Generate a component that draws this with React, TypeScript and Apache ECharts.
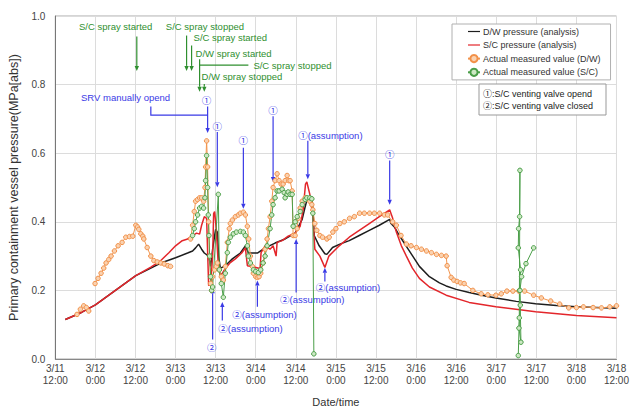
import React, { useEffect, useRef } from "react";
import * as echarts from "echarts";

// x values are hours counted from 3/11 0:00; y values are MPa[abs]
const xTickHours = [12, 24, 36, 48, 60, 72, 84, 96, 108, 120, 132, 144, 156, 168, 180];
const yTicks = [0, 0.2, 0.4, 0.6, 0.8, 1.0];

const dwAnalysis: [number, number][] = [
  [15.0, 0.115], [19.7, 0.135], [24, 0.158], [30, 0.2], [36.1, 0.243], [40.6, 0.265], [43.6, 0.28],
  [48, 0.295], [51.6, 0.309], [53.1, 0.315], [54, 0.324], [54.9, 0.335], [55.8, 0.32], [56.6, 0.309],
  [57.9, 0.3], [58.5, 0.27], [59.1, 0.32], [59.7, 0.36], [60.0, 0.378], [60.5, 0.37], [60.9, 0.3],
  [61.4, 0.264], [62.9, 0.272], [65, 0.292], [67.4, 0.309], [68.9, 0.33], [69.8, 0.309], [72.5, 0.309],
  [74.8, 0.324], [77.8, 0.338], [80.8, 0.35], [83.8, 0.367], [85.9, 0.407], [86.8, 0.444], [87.6, 0.473],
  [88.8, 0.473], [89.1, 0.44], [89.5, 0.36], [91, 0.33], [92.7, 0.307], [93.3, 0.305], [95, 0.325],
  [97.2, 0.335], [100, 0.345], [103, 0.36], [106, 0.375], [109, 0.39], [112.1, 0.407], [112.5, 0.395],
  [113.5, 0.385], [115, 0.36], [117, 0.33], [119, 0.3], [121, 0.27], [124, 0.24], [127, 0.222],
  [129, 0.213], [132, 0.203], [135.9, 0.194], [140, 0.185], [143.9, 0.178], [150, 0.168], [155.8, 0.161],
  [162, 0.156], [168, 0.152], [174, 0.15], [180, 0.148],
];

const scAnalysis: [number, number][] = [
  [15.0, 0.115], [19.7, 0.135], [24, 0.158], [30, 0.2], [36.1, 0.243], [40.6, 0.268], [43.6, 0.287],
  [46, 0.31], [48, 0.33], [50, 0.345], [51.6, 0.35], [53.1, 0.36], [54.3, 0.367], [55.2, 0.364],
  [55.8, 0.39], [56.6, 0.415], [57.3, 0.41], [57.9, 0.215], [58.5, 0.215], [59.1, 0.3], [59.4, 0.424],
  [59.7, 0.43], [60.2, 0.378], [60.8, 0.272], [61.4, 0.244], [62.0, 0.25], [62.9, 0.264], [64.4, 0.281],
  [65.9, 0.292], [67.8, 0.309], [68.9, 0.324], [69.5, 0.272], [73.3, 0.264], [73.6, 0.31], [74.8, 0.33],
  [76.3, 0.32], [77.2, 0.33], [78.1, 0.3], [78.4, 0.34], [79.9, 0.345], [81.7, 0.358], [83.8, 0.367],
  [85.3, 0.387], [86.2, 0.436], [86.9, 0.51], [87.3, 0.516], [88.2, 0.48], [89.1, 0.415], [89.7, 0.32],
  [91.2, 0.3], [92.7, 0.267], [93.9, 0.3], [97, 0.33], [100, 0.355], [103, 0.375], [106, 0.395],
  [109, 0.415], [112.1, 0.435], [113, 0.41], [114.1, 0.37], [115.6, 0.33], [117.1, 0.3], [118.9, 0.265],
  [121, 0.235], [124, 0.21], [129, 0.186], [135.9, 0.165], [143.9, 0.152], [155.8, 0.138], [168, 0.127],
  [180, 0.12],
];

const dwMeasured: [number, number | null][] = [
  [18.5, 0.13], [19.5, 0.145], [20.5, 0.155], [21.3, 0.15], [22, 0.14], [23, null],
  [23.9, 0.22], [24.8, 0.235], [25.7, 0.25], [26.5, 0.265], [27.2, 0.28], [28, 0.29], [28.7, 0.3],
  [29.7, 0.315], [30.8, 0.33], [32, 0.34], [33.1, 0.355], [34.2, 0.357], [35.2, 0.358], [36.1, 0.39],
  [36.6, 0.385], [37, 0.378], [37.6, 0.365], [38.2, 0.358], [38.5, 0.35], [39.5, 0.325], [40.6, 0.3],
  [41.5, 0.287], [42.5, 0.283], [43.6, 0.28], [44.6, 0.277], [45.7, 0.272], [46.5, 0.27], [49, null],
  [52.5, 0.35], [53.1, 0.39], [53.6, 0.43], [54, 0.46], [54.6, 0.465], [55.2, 0.47], [55.8, 0.47],
  [56.4, 0.46], [56.8, 0.5], [57.0, 0.56], [57.3, 0.636], [57.6, 0.56], [57.9, 0.4], [58.2, 0.3],
  [58.5, 0.22], [58.8, 0.2], [59.1, 0.24], [59.7, 0.26], [60.2, 0.27], [60.5, 0.28], [61.1, 0.26],
  [61.7, 0.24], [62.3, 0.23], [62.9, 0.27], [63.5, 0.34], [64.1, 0.38], [64.4, 0.395], [65, 0.405],
  [65.9, 0.415], [66.8, 0.42], [67.4, 0.425], [68.3, 0.428], [68.9, 0.42], [69.5, 0.387], [69.9, 0.35],
  [70.4, 0.3], [71, 0.27], [71.3, 0.25], [72, 0.24], [72.5, 0.238], [73, 0.24], [73.5, 0.25],
  [74.2, 0.28], [74.8, 0.32], [75.4, 0.35], [75.8, 0.38], [76.3, 0.415], [76.8, 0.46], [77.2, 0.5],
  [77.8, 0.52], [78.4, 0.54], [79, 0.52], [79.6, 0.51], [80.2, 0.51], [80.8, 0.52], [81.4, 0.535],
  [81.9, 0.52], [82.3, 0.52], [82.9, 0.49], [83.2, 0.36], [83.8, 0.36], [84.4, 0.38], [84.7, 0.41],
  [85.3, 0.44], [85.9, 0.46], [86.8, 0.47], [87.6, 0.465], [88.2, 0.46], [88.8, 0.45], [89.1, 0.435],
  [89.7, 0.395], [90.3, 0.375], [91.2, 0.36], [92, 0.355], [93.3, 0.35], [94, 0.355], [95.1, 0.37],
  [96, 0.38], [97.2, 0.395], [98.5, 0.4], [100.1, 0.41], [101.5, 0.415], [103.1, 0.425], [104.5, 0.425],
  [106.1, 0.425], [107.5, 0.425], [109.1, 0.425], [110.5, 0.42], [111.5, 0.42], [113, 0.4], [114.1, 0.39],
  [115.5, 0.36], [117.1, 0.335], [118.5, 0.33], [120.1, 0.325], [121.6, 0.32], [123.1, 0.315],
  [124.6, 0.31], [126.1, 0.305], [127.6, 0.302], [129, 0.3], [129.3, 0.272], [130.5, 0.238],
  [131.3, 0.23], [132.3, 0.226], [133.3, 0.222], [134.4, 0.22], [137, 0.2], [139.5, 0.19],
  [141.5, 0.187], [143.9, 0.186], [145.5, 0.19], [147.2, 0.198], [149, 0.198], [150.8, 0.198],
  [152.5, 0.198], [155.2, 0.186], [157.5, 0.178], [160.3, 0.169], [163, 0.16], [165.7, 0.149],
  [168, 0.15], [170.1, 0.152], [173, 0.15], [175.5, 0.149], [178, 0.152], [180, 0.155],
];

const scMeasured: [number, number | null][] = [
  [53.1, 0.36], [53.6, 0.38], [54, 0.4], [54.6, 0.42], [55.2, 0.44], [55.8, 0.445], [56.4, 0.44],
  [56.8, 0.47], [57.0, 0.52], [57.3, 0.593], [57.6, 0.5], [57.8, 0.42], [58.0, 0.36], [58.2, 0.3],
  [58.5, 0.24], [58.8, 0.2], [59.1, 0.21], [60.8, 0.48], [61.1, 0.26], [61.7, 0.22], [62.3, 0.18],
  [62.9, 0.25], [63.5, 0.31], [63.8, 0.34], [64.4, 0.355], [65.3, 0.365], [66.2, 0.37], [67.4, 0.372],
  [68.3, 0.37], [68.9, 0.36], [69.5, 0.33], [69.8, 0.3], [70.4, 0.28], [71.3, 0.26], [72, 0.255],
  [72.8, 0.252], [73.5, 0.26], [74.2, 0.28], [74.8, 0.3], [75.4, 0.33], [76.3, 0.38], [76.8, 0.42],
  [77.2, 0.45], [77.8, 0.47], [78.4, 0.49], [79, 0.49], [79.9, 0.495], [80.5, 0.485], [80.8, 0.47],
  [81.4, 0.48], [81.7, 0.487], [82.3, 0.48], [82.9, 0.48], [83.2, 0.387], [83.8, 0.4], [84.4, 0.415],
  [85.3, 0.43], [85.9, 0.45], [86.8, 0.465], [87.3, 0.47], [88.2, 0.47], [88.8, 0.467], [89.1, 0.425],
  [89.4, 0.015], [100, null],
  [150.6, 0.01], [150.9, 0.12], [151.1, 0.55], [151.0, 0.415], [150.7, 0.38], [150.6, 0.324],
  [151.3, 0.26], [151.0, 0.2], [151.2, 0.157], [150.8, 0.09], [151.4, 0.049], [151.1, 0.2],
  [151.6, 0.24], [152.9, 0.278], [155.2, 0.324],
];

const seriesNames = [
  "D/W pressure (analysis)",
  "S/C pressure (analysis)",
  "Actual measured value (D/W)",
  "Actual measured value (S/C)",
];

// Annotations in data coordinates (hours, MPa)
const greenTexts: [string, number, number][] = [
  ["S/C spray started", 19.1, 0.968],
  ["S/C spray stopped", 45.1, 0.968],
  ["S/C spray started", 53.4, 0.937],
  ["D/W spray started", 54.0, 0.891],
  ["S/C spray stopped", 71.3, 0.857],
  ["D/W spray stopped", 55.8, 0.825],
];
const greenArrows: [number, number][][] = [
  [[36.4, 0.94], [36.4, 0.84]],
  [[51.3, 0.943], [51.3, 0.84]],
  [[52.8, 0.914], [52.8, 0.84]],
  [[55.2, 0.874], [55.2, 0.779]],
  [[56.6, 0.802], [56.6, 0.779]],
];
const greenLines: [number, number][][] = [
  [[69.8, 0.857], [55.2, 0.857]],
];

const blueTexts: [string, number, number, string][] = [
  ["SRV manually opend", 19.7, 0.762, "left"],
  ["①", 57.3, 0.754, "center"],
  ["①", 60.5, 0.679, "center"],
  ["①", 68.3, 0.636, "center"],
  ["①", 77.2, 0.725, "center"],
  ["①(assumption)", 84.7, 0.653, "left"],
  ["①", 112.1, 0.596, "center"],
  ["②", 58.8, 0.034, "center"],
  ["②(assumption)", 60.8, 0.089, "left"],
  ["②(assumption)", 65.0, 0.129, "left"],
  ["②(assumption)", 79.3, 0.174, "left"],
  ["②(assumption)", 90.0, 0.209, "left"],
];
const blueArrows: [number, number][][] = [
  [[57.6, 0.736], [57.6, 0.659]],
  [[60.5, 0.662], [60.5, 0.501]],
  [[68.3, 0.616], [68.3, 0.438]],
  [[77.2, 0.708], [77.2, 0.516]],
  [[87.6, 0.636], [87.6, 0.524]],
  [[112.1, 0.579], [112.1, 0.45]],
  [[59.1, 0.057], [59.1, 0.206]],
  [[62.0, 0.112], [62.0, 0.166]],
  [[72.5, 0.152], [72.5, 0.229]],
  [[84.1, 0.194], [84.1, 0.35]],
  [[92.7, 0.226], [92.7, 0.266]],
];
const blueLines: [number, number][][] = [
  [[40.6, 0.736], [40.6, 0.711], [57.6, 0.711]],
];

const valveNotes = ["①:S/C venting valve opend", "②:S/C venting valve closed"];

const FONT = '"Liberation Sans", Arial, "Noto Sans CJK JP", sans-serif';
const BLUE = "#3a3ae6";
const GREEN = "#2f8f2f";
const LINE_ICON = "path://M0,0 L24,0 L24,2.4 L0,2.4 Z";

function xLabel(h: number): string {
  const day = 11 + Math.floor(h / 24);
  const hr = h % 24;
  return `3/${day}\n${hr}:00`;
}

function arrowEls(p1: number[], p2: number[], color: string) {
  const [x1, y1] = p1;
  const [x2, y2] = p2;
  const dx = x2 - x1;
  const dy = y2 - y1;
  const len = Math.hypot(dx, dy) || 1;
  const ux = dx / len;
  const uy = dy / len;
  const hl = 5;
  const hw = 2.2;
  const bx = x2 - ux * hl;
  const by = y2 - uy * hl;
  return [
    { type: "line", shape: { x1, y1, x2: bx, y2: by }, style: { stroke: color, lineWidth: 1.2 }, silent: true },
    {
      type: "polygon",
      shape: { points: [[x2, y2], [bx - uy * hw, by + ux * hw], [bx + uy * hw, by - ux * hw]] },
      style: { fill: color },
      silent: true,
    },
  ];
}

export default function App() {
  const ref = useRef<HTMLDivElement>(null);

  useEffect(() => {
    if (!ref.current) return;
    const chart = echarts.init(ref.current, undefined, { renderer: "svg" });
    const option: any = {
      animation: false,
      backgroundColor: "#ffffff",
      textStyle: { fontFamily: FONT },
      grid: { left: 54, right: 14, top: 16, bottom: 47, show: true, borderColor: "#aaaaaa", borderWidth: 1 },
      legend: {
        orient: "vertical",
        left: 452,
        top: 24,
        padding: [3, 10, 3, 15],
        itemWidth: 12,
        itemHeight: 9,
        itemGap: 4.5,
        borderColor: "#b0b0b0",
        borderWidth: 1,
        backgroundColor: "#ffffff",
        textStyle: { fontSize: 9, color: "#333", fontFamily: FONT, padding: [0, 0, 0, -2] },
        data: [
          { name: seriesNames[0], icon: LINE_ICON },
          { name: seriesNames[1], icon: LINE_ICON },
          { name: seriesNames[2] },
          { name: seriesNames[3] },
        ],
      },
      xAxis: {
        type: "value",
        min: 12,
        max: 180,
        interval: 12,
        axisLine: { show: true, onZero: false, lineStyle: { color: "#888" } },
        axisTick: { show: false },
        axisLabel: { formatter: xLabel, fontSize: 10, color: "#444", lineHeight: 12, margin: 3 },
        splitLine: { show: true, lineStyle: { color: "#dcdcdc" } },
        name: "Date/time",
        nameLocation: "middle",
        nameGap: 37,
        nameTextStyle: { fontSize: 11, color: "#333" },
      },
      yAxis: {
        type: "value",
        min: 0,
        max: 1,
        interval: 0.2,
        axisLine: { show: true, lineStyle: { color: "#777" } },
        axisTick: { show: false },
        axisLabel: { formatter: (v: number) => v.toFixed(1), fontSize: 10, color: "#444", margin: 10 },
        splitLine: { show: true, lineStyle: { color: "#dcdcdc" } },
        name: "Primary containment vessel pressure(MPa[abs])",
        nameLocation: "middle",
        nameGap: 30,
        nameTextStyle: { fontSize: 12.5, color: "#333" },
      },
      series: [
        {
          name: seriesNames[0],
          type: "line",
          data: dwAnalysis,
          symbol: "none",
          lineStyle: { color: "#1e1e1e", width: 1.5 },
          itemStyle: { color: "#1e1e1e" },
        },
        {
          name: seriesNames[1],
          type: "line",
          data: scAnalysis,
          symbol: "none",
          lineStyle: { color: "#e3262b", width: 1.5 },
          itemStyle: { color: "#e3262b" },
        },
        {
          name: seriesNames[2],
          type: "line",
          data: dwMeasured,
          symbol: "circle",
          symbolSize: 4.5,
          connectNulls: false,
          lineStyle: { color: "#f2954e", width: 1 },
          itemStyle: { color: "#fad2b0", borderColor: "#f29048", borderWidth: 1 },
        },
        {
          name: seriesNames[3],
          type: "line",
          data: scMeasured,
          symbol: "circle",
          symbolSize: 4.5,
          connectNulls: false,
          lineStyle: { color: "#4a9e48", width: 1 },
          itemStyle: { color: "#cde8c4", borderColor: "#4a9e48", borderWidth: 1 },
        },
      ],
    };
    chart.setOption(option);

    const px = (p: number[]) => chart.convertToPixel({ gridIndex: 0 }, p) as number[];
    const els: any[] = [];
    greenTexts.forEach(([t, h, v]) => {
      const [x, y] = px([h, v]);
      els.push({
        type: "text",
        x,
        y,
        silent: true,
        style: { text: t, fill: GREEN, font: `9.5px ${FONT}`, textAlign: "left", textVerticalAlign: "middle" },
      });
    });
    greenArrows.forEach(([a, b]) => els.push(...arrowEls(px(a), px(b), GREEN)));
    greenLines.forEach((pts) =>
      els.push({ type: "polyline", silent: true, shape: { points: pts.map(px) }, style: { stroke: GREEN, lineWidth: 1.2, fill: null } })
    );
    blueTexts.forEach(([t, h, v, al]) => {
      const [x, y] = px([h, v]);
      els.push({
        type: "text",
        x,
        y,
        silent: true,
        style: { text: t, fill: BLUE, font: `9.5px ${FONT}`, textAlign: al, textVerticalAlign: "middle" },
      });
    });
    blueArrows.forEach(([a, b]) => els.push(...arrowEls(px(a), px(b), BLUE)));
    blueLines.forEach((pts) =>
      els.push({ type: "polyline", silent: true, shape: { points: pts.map(px) }, style: { stroke: BLUE, lineWidth: 1.2, fill: null } })
    );
    // venting valve note box
    els.push({
      type: "rect",
      silent: true,
      shape: { x: 479, y: 84, width: 127, height: 31 },
      style: { fill: "#ffffff", stroke: "#999", lineWidth: 1 },
    });
    valveNotes.forEach((t, i) => {
      els.push({
        type: "text",
        silent: true,
        x: 483,
        y: 94 + i * 12,
        style: { text: t, fill: "#222", font: `9px ${FONT}`, textAlign: "left", textVerticalAlign: "middle" },
      });
    });
    chart.setOption({ graphic: els });

    return () => chart.dispose();
  }, []);

  return (
    <div
      ref={ref}
      style={{ position: "fixed", left: 0, top: 0, width: 632, height: 412, background: "#fff" }}
    />
  );
}
